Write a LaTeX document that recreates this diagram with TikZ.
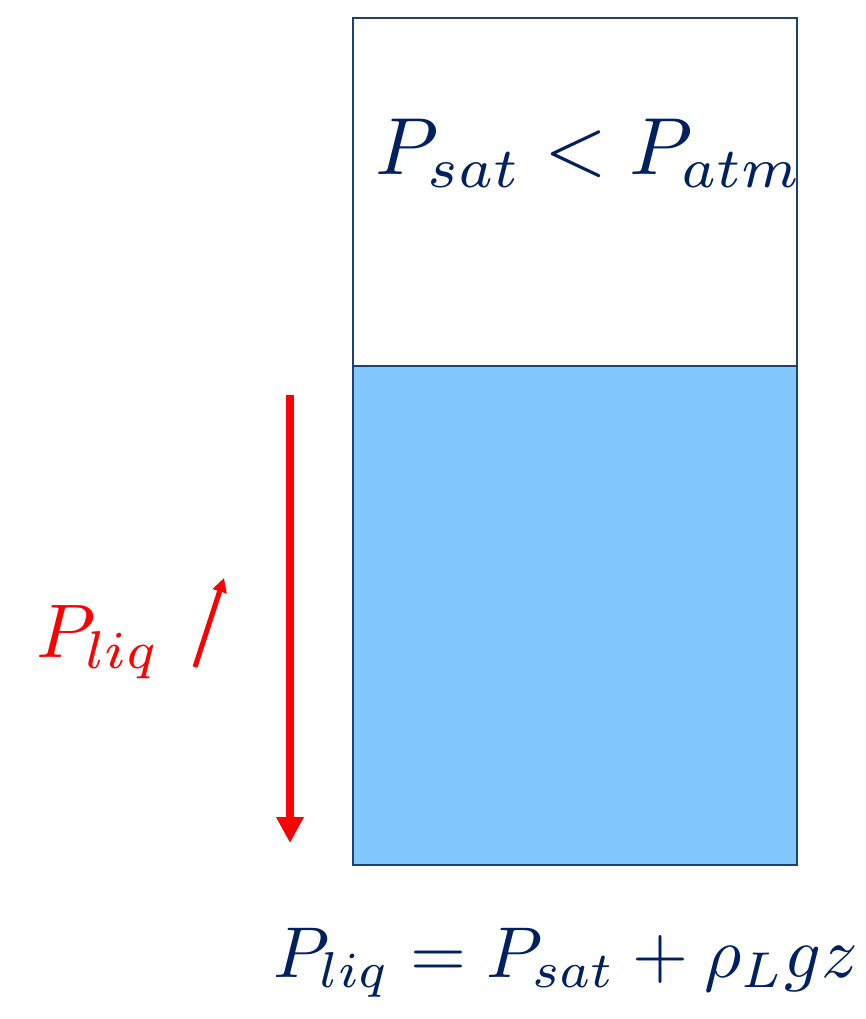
\documentclass[tikz,border=0pt]{standalone}
\usetikzlibrary{arrows.meta}
\definecolor{navy}{HTML}{002060}
\definecolor{tankline}{HTML}{1F3F6F}
\definecolor{liquid}{HTML}{82C8FF}
\definecolor{redarrow}{HTML}{FF0000}
\begin{document}
\begin{tikzpicture}[x=1pt,y=-1pt,
  wall/.style={draw=tankline,line width=2.8pt},
  eqtext/.style={text=navy,inner sep=0pt,anchor=base west},
  redtext/.style={text=redarrow,inner sep=0pt,anchor=base west},
  bigarrow/.style={draw=redarrow,line width=8pt,-{Triangle[length=26pt,width=26pt]}},
  smallarrow/.style={draw=redarrow,line width=5pt,-{Triangle[length=14pt,width=14pt]}}]
\useasboundingbox (0,0) rectangle (866,1019);
% liquid
\fill[liquid] (353,366) rectangle (797,865);
% tank
\draw[wall] (353,18) rectangle (797,865);
\draw[wall] (353,366) -- (797,366);
\node[eqtext,scale=8.1] (top) at (374,175) {$P_{sat}<P_{atm}$};
% arrows
\coordinate (a1) at (290,395);
\coordinate (a2) at (290,843);
\draw[bigarrow] (a1) -- (a2);
\coordinate (b1) at (195,667);
\coordinate (b2) at (224,578);
\draw[smallarrow] (b1) -- (b2);
\node[redtext,scale=7.6] (pliq) at (35,657) {$P_{liq}$};
\node[eqtext,scale=7.2] (eq) at (272,977) {$P_{liq}=P_{sat}+\rho_L gz$};
\end{tikzpicture}
\end{document}
